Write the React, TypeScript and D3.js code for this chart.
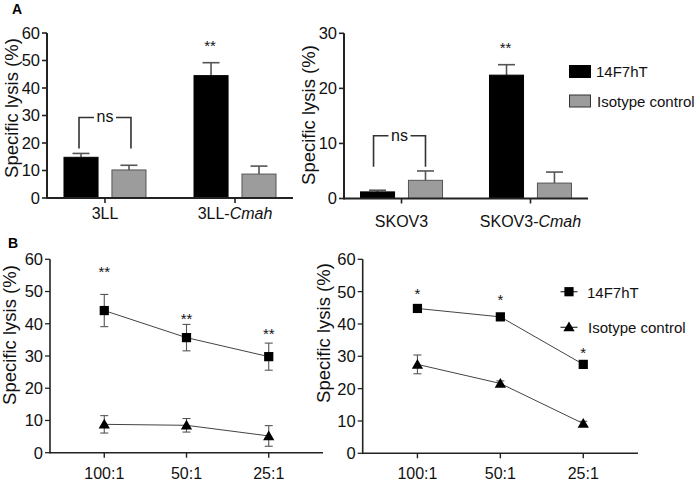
import React from "react";
import * as d3 from "d3";

// ---------- DATA ----------
const seriesNames = ["14F7hT", "Isotype control"];

// Panel A (left)
const catsA1 = ["3LL", "3LL-Cmah"];
const a1Black = [14.8, 44.5];
const a1BlackErr = [1.4, 4.7];
const a1Gray = [10.2, 8.7];
const a1GrayErr = [1.7, 2.9];
const a1Ticks = [0, 10, 20, 30, 40, 50, 60];

// Panel A (right)
const catsA2 = ["SKOV3", "SKOV3-Cmah"];
const a2Black = [1.2, 22.4];
const a2BlackErr = [0.3, 1.9];
const a2Gray = [3.3, 2.8];
const a2GrayErr = [1.7, 2.0];
const a2Ticks = [0, 10, 20, 30];

// Panel B
const ratios = ["100:1", "50:1", "25:1"];
const bTicks = [0, 10, 20, 30, 40, 50, 60];
const b1Square = [44.1, 35.7, 29.8];
const b1SquareErr = [5.0, 4.1, 4.2];
const b1Tri = [8.8, 8.5, 5.2];
const b1TriErr = [2.7, 2.1, 3.2];
const b1Stars = [57.2, 42.7, 38.1];

const b2Square = [44.8, 42.2, 27.5];
const b2SquareErr = [0.6, 0.5, 0.5];
const b2Tri = [27.5, 21.6, 9.2];
const b2TriErr = [2.9, 0.8, 0.7];
const b2Stars = [50.5, 48.6, 32.4];

const FONT = "Arial, 'Liberation Sans', Helvetica, sans-serif";
const AXIS = "#222";
const ERR = "#555";
const GRAY = "#9c9c9c";

function CatLabel({ label, x, y }: { label: string; x: number; y: number }) {
  const parts = label.split("-");
  if (parts.length === 2) {
    return (
      <text x={x} y={y} textAnchor="middle" fontSize={16} fontFamily={FONT} fill="#111">
        {parts[0]}-<tspan fontStyle="italic">{parts[1]}</tspan>
      </text>
    );
  }
  return (
    <text x={x} y={y} textAnchor="middle" fontSize={16} fontFamily={FONT} fill="#111">
      {label}
    </text>
  );
}

function YAxis({ y, ticks, x, sw, labelX, labelY }: any) {
  return (
    <g>
      <line x1={x} x2={x} y1={y.range()[0] + sw / 2} y2={y.range()[1]} stroke={AXIS} strokeWidth={sw} />
      {ticks.map((t: number) => (
        <g key={t}>
          <line x1={x - 5} x2={x} y1={y(t)} y2={y(t)} stroke={AXIS} strokeWidth={sw * 0.8} />
          <text x={x - 7} y={y(t)} dy="0.36em" textAnchor="end" fontSize={16.5} fontFamily={FONT} fill="#111">
            {t}
          </text>
        </g>
      ))}
      <text
        transform={`translate(${labelX},${labelY}) rotate(-90)`}
        textAnchor="middle"
        fontSize={18.5}
        fontFamily={FONT}
        fill="#111"
      >
        Specific lysis (%)
      </text>
    </g>
  );
}

function BarPanel({ cats, black, blackErr, gray, grayErr, ticks, ymax, x0, x1, yTop, yBot, labelX, labelY, catY, star, ns }: any) {
  const xs = d3.scalePoint<string>().domain(cats).range([x0, x1]).padding(0.446);
  const inner = d3.scaleBand<string>().domain(seriesNames).range([-41, 41]).paddingInner(0.29);
  const y = d3.scaleLinear().domain([0, ymax]).range([yBot, yTop]);
  const vals = [black, gray];
  const errs = [blackErr, grayErr];
  const bw = inner.bandwidth();
  const cx = (c: string, s: number) => (xs(c) as number) + (inner(seriesNames[s]) as number) + bw / 2;
  return (
    <g>
      {cats.map((c: string, i: number) =>
        seriesNames.map((s, si) => {
          const bx = (xs(c) as number) + (inner(s) as number);
          const v = vals[si][i];
          const e = errs[si][i];
          const mid = bx + bw / 2;
          return (
            <g key={c + s}>
              <line x1={mid} x2={mid} y1={y(v)} y2={y(v + e)} stroke={ERR} strokeWidth={1.6} />
              <line x1={mid - 8.5} x2={mid + 8.5} y1={y(v + e)} y2={y(v + e)} stroke={ERR} strokeWidth={1.6} />
              <rect
                x={bx}
                y={y(v)}
                width={bw}
                height={y(0) - y(v)}
                fill={si === 0 ? "#000" : GRAY}
                stroke={si === 0 ? "#000" : "#555"}
                strokeWidth={1}
              />
            </g>
          );
        })
      )}
      {/* ns bracket */}
      {(() => {
        const lx = cx(cats[0], 0) + ns.dl;
        const rx = cx(cats[0], 1) + ns.dr;
        const mx = (lx + rx) / 2;
        const ty = y(ns.top);
        return (
          <g stroke="#333" strokeWidth={1.6} fill="none">
            <path d={`M${lx},${y(ns.bot)}V${ty}H${mx - 11}`} />
            <path d={`M${rx},${y(ns.bot)}V${ty}H${mx + 11}`} />
            <text x={mx} y={ty + 5} textAnchor="middle" fontSize={16} fontFamily={FONT} fill="#111" stroke="none">
              ns
            </text>
          </g>
        );
      })()}
      {/* significance star */}
      <text x={cx(cats[1], 0) - 1} y={y(star) + 9} textAnchor="middle" fontSize={15} fontFamily={FONT} fill="#111">
        **
      </text>
      {/* x axis */}
      <line x1={x0} x2={x1} y1={yBot} y2={yBot} stroke={AXIS} strokeWidth={2} />
      {cats.map((c: string) => (
        <g key={c}>
          <line x1={xs(c)} x2={xs(c)} y1={yBot} y2={yBot + 5} stroke={AXIS} strokeWidth={1.6} />
          <CatLabel label={c} x={xs(c) as number} y={catY} />
        </g>
      ))}
      <YAxis y={y} ticks={ticks} x={x0} sw={2} labelX={labelX} labelY={labelY} />
    </g>
  );
}

const squareSym = d3.symbol().type(d3.symbolSquare).size(85)();
const triSym = d3.symbol().type(d3.symbolTriangle).size(55)();

function LinePanel({ sq, sqErr, tri, triErr, stars, starText, x0, x1, yTop, yBot, labelX, labelY }: any) {
  const xs = d3.scalePoint<string>().domain(ratios).range([x0, x1]).padding(0.66);
  const y = d3.scaleLinear().domain([0, 60]).range([yBot, yTop]);
  const line = d3
    .line<number>()
    .x((_, i) => xs(ratios[i]) as number)
    .y((d) => y(d));
  const series = [
    { v: sq, e: sqErr, sym: squareSym },
    { v: tri, e: triErr, sym: triSym },
  ];
  return (
    <g>
      {series.map((s, si) => (
        <g key={si}>
          <path d={line(s.v) as string} fill="none" stroke="#444" strokeWidth={1} />
          {s.v.map((v: number, i: number) => {
            const px = xs(ratios[i]) as number;
            const e = s.e[i];
            return (
              <g key={i}>
                <line x1={px} x2={px} y1={y(v - e)} y2={y(v + e)} stroke={ERR} strokeWidth={1.1} />
                <line x1={px - 4} x2={px + 4} y1={y(v - e)} y2={y(v - e)} stroke={ERR} strokeWidth={1.1} />
                <line x1={px - 4} x2={px + 4} y1={y(v + e)} y2={y(v + e)} stroke={ERR} strokeWidth={1.1} />
                <path d={s.sym as string} transform={`translate(${px},${y(v) + (si === 1 ? 1 : 0)})`} fill="#000" />
              </g>
            );
          })}
        </g>
      ))}
      {stars.map((s: number, i: number) => (
        <text key={i} x={xs(ratios[i])} y={y(s) + 9} textAnchor="middle" fontSize={15} fontFamily={FONT} fill="#111">
          {starText}
        </text>
      ))}
      <line x1={x0} x2={x1} y1={yBot} y2={yBot} stroke={AXIS} strokeWidth={1.6} />
      {ratios.map((r) => (
        <g key={r}>
          <line x1={xs(r)} x2={xs(r)} y1={yBot} y2={yBot + 5} stroke={AXIS} strokeWidth={1.4} />
          <text x={xs(r)} y={479} textAnchor="middle" fontSize={16} fontFamily={FONT} fill="#111">
            {r}
          </text>
        </g>
      ))}
      <YAxis y={y} ticks={bTicks} x={x0} sw={1.6} labelX={labelX} labelY={labelY} />
    </g>
  );
}

export default function App() {
  return (
    <svg
      width={699}
      height={482}
      style={{ position: "absolute", left: 0, top: 0, background: "#fff" }}
      fontFamily={FONT}
    >
      <rect width={699} height={482} fill="#fff" />
      <text x={12} y={14} fontSize={14} fontWeight="bold" fontFamily={FONT}>
        A
      </text>
      <text x={8} y={248} fontSize={14} fontWeight="bold" fontFamily={FONT}>
        B
      </text>

      <BarPanel
        cats={catsA1}
        black={a1Black}
        blackErr={a1BlackErr}
        gray={a1Gray}
        grayErr={a1GrayErr}
        ticks={a1Ticks}
        ymax={60}
        x0={47}
        x1={293}
        yTop={33}
        yBot={198}
        labelX={18}
        labelY={108}
        catY={219}
        star={56.7}
        ns={{ top: 29.3, bot: 18, dl: -2, dr: 2 }}
      />
      <BarPanel
        cats={catsA2}
        black={a2Black}
        blackErr={a2BlackErr}
        gray={a2Gray}
        grayErr={a2GrayErr}
        ticks={a2Ticks}
        ymax={30}
        x0={344}
        x1={588}
        yTop={33.3}
        yBot={198.5}
        labelX={315}
        labelY={115}
        catY={226.5}
        star={28.1}
        ns={{ top: 11.4, bot: 5.75, dl: -4, dr: 0 }}
      />

      {/* Legend A */}
      <rect x={569.5} y={65.5} width={21} height={12} fill="#000" stroke="#000" />
      <text x={596} y={77} fontSize={15} fontFamily={FONT} fill="#111">
        {seriesNames[0]}
      </text>
      <rect x={569.5} y={95} width={21} height={12} fill={GRAY} stroke="#333" />
      <text x={597} y={106.5} fontSize={15} fontFamily={FONT} fill="#111">
        {seriesNames[1]}
      </text>

      <LinePanel
        sq={b1Square}
        sqErr={b1SquareErr}
        tri={b1Tri}
        triErr={b1TriErr}
        stars={b1Stars}
        starText="**"
        x0={50}
        x1={323}
        yTop={259.3}
        yBot={452.7}
        labelX={15.5}
        labelY={335}
      />
      <LinePanel
        sq={b2Square}
        sqErr={b2SquareErr}
        tri={b2Tri}
        triErr={b2TriErr}
        stars={b2Stars}
        starText="*"
        x0={362.7}
        x1={638}
        yTop={259.3}
        yBot={453.3}
        labelX={330}
        labelY={333}
      />

      {/* Legend B */}
      <line x1={560.5} x2={577.5} y1={291.7} y2={291.7} stroke="#333" strokeWidth={1.2} />
      <path d={squareSym as string} transform="translate(569,291.7)" fill="#000" />
      <text x={587} y={297.5} fontSize={15} fontFamily={FONT} fill="#111">
        {seriesNames[0]}
      </text>
      <line x1={560.5} x2={577.5} y1={327.3} y2={327.3} stroke="#333" strokeWidth={1.2} />
      <path d={triSym as string} transform="translate(569,328)" fill="#000" />
      <text x={588} y={333} fontSize={15} fontFamily={FONT} fill="#111">
        {seriesNames[1]}
      </text>
    </svg>
  );
}
